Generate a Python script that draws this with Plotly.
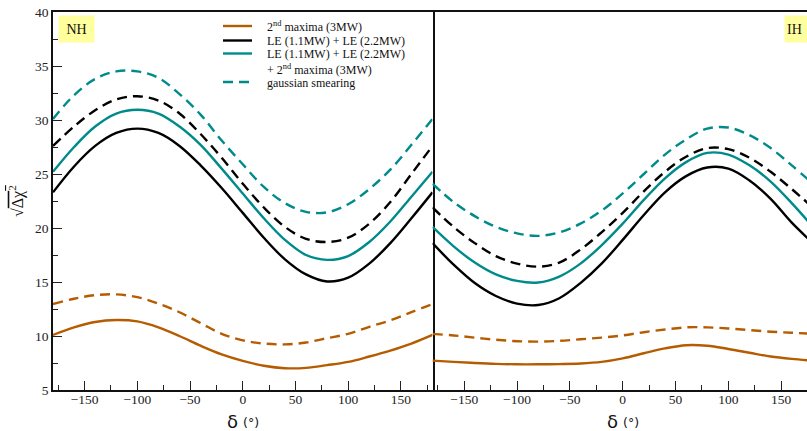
import plotly.graph_objects as go

# CP phase delta (degrees)
delta = [-180, -160, -140, -120, -100, -80, -60, -40, -20, 0,
         20, 40, 60, 80, 100, 120, 140, 160, 180]

# Normal hierarchy: sqrt(delta chi^2)
nh_second = [10.1, 10.8, 11.3, 11.48, 11.35, 10.8, 10.0, 9.1, 8.3, 7.7,
             7.25, 7.02, 7.05, 7.3, 7.6, 8.1, 8.65, 9.3, 10.1]
nh_second_gs = [12.96, 13.45, 13.78, 13.85, 13.6, 13.0, 12.2, 11.2, 10.2, 9.6,
                9.3, 9.22, 9.4, 9.8, 10.2, 10.85, 11.45, 12.2, 12.96]
nh_le = [23.3, 25.7, 27.6, 28.8, 29.2, 28.8, 27.6, 25.8, 23.7, 21.4,
         19.1, 17.1, 15.7, 15.05, 15.4, 16.7, 18.6, 20.9, 23.3]
nh_le_gs = [27.6, 29.4, 30.9, 31.9, 32.2, 31.8, 30.6, 28.7, 26.5, 24.1,
            21.9, 20.1, 19.0, 18.7, 19.1, 20.4, 22.4, 25.0, 27.6]
nh_total = [25.2, 27.5, 29.4, 30.6, 30.95, 30.6, 29.4, 27.7, 25.5, 23.2,
            20.9, 18.9, 17.5, 17.05, 17.4, 18.7, 20.6, 22.9, 25.2]
nh_total_gs = [30.1, 32.3, 33.8, 34.5, 34.5, 33.9, 32.4, 30.5, 28.1, 25.9,
               23.8, 22.3, 21.5, 21.45, 22.2, 23.6, 25.4, 27.7, 30.1]

# Inverted hierarchy
ih_second = [7.72, 7.6, 7.5, 7.42, 7.38, 7.38, 7.4, 7.45, 7.6, 7.93,
             8.4, 8.85, 9.15, 9.1, 8.8, 8.45, 8.1, 7.88, 7.72]
ih_second_gs = [10.2, 10.05, 9.85, 9.65, 9.52, 9.48, 9.55, 9.7, 9.85, 10.05,
                10.35, 10.6, 10.8, 10.8, 10.7, 10.55, 10.4, 10.3, 10.2]
ih_le = [18.6, 16.6, 14.9, 13.7, 13.0, 12.87, 13.5, 14.9, 16.7, 18.9,
         21.2, 23.3, 24.8, 25.6, 25.5, 24.4, 22.7, 20.5, 18.6]
ih_le_gs = [21.9, 20.1, 18.6, 17.4, 16.7, 16.42, 16.8, 18.0, 19.6, 21.4,
            23.4, 25.2, 26.6, 27.4, 27.3, 26.5, 25.2, 23.6, 21.9]
ih_total = [20.1, 18.3, 16.8, 15.7, 15.1, 14.95, 15.5, 16.7, 18.4, 20.4,
            22.6, 24.6, 26.1, 26.95, 26.8, 25.8, 24.3, 22.3, 20.1]
ih_total_gs = [24.1, 22.4, 21.1, 20.1, 19.5, 19.27, 19.6, 20.4, 21.6, 23.2,
               25.0, 26.8, 28.2, 29.2, 29.3, 28.6, 27.4, 25.8, 24.1]

y_ticks = [5, 10, 15, 20, 25, 30, 35, 40]
x_ticks = [-150, -100, -50, 0, 50, 100, 150]

legend_labels = [
    "2<sup>nd</sup> maxima (3MW)",
    "LE (1.1MW) + LE (2.2MW)",
    "LE (1.1MW) + LE (2.2MW)<br>+ 2<sup>nd</sup> maxima (3MW)",
    "gaussian smearing",
]

ORANGE = "#B65C00"
TEAL = "#008B8B"
BLACK = "#000000"
DASH = "10px,6px"
LW = 2.4

W, H = 807, 431
ML, MR, MT, MB = 53, 0, 12, 41
PW, PH = W - ML - MR, H - MT - MB


def fx(x):
    return (x - ML) / PW


def fy(y):
    return (H - MB - y) / PH


split = fx(432.5)

fig = go.Figure()

panels = [
    ("x", "y", nh_second, nh_second_gs, nh_le, nh_le_gs, nh_total, nh_total_gs),
    ("x2", "y2", ih_second, ih_second_gs, ih_le, ih_le_gs, ih_total, ih_total_gs),
]
for xa, ya, s2, s2g, le, leg, tot, totg in panels:
    series = [
        (s2g, ORANGE, DASH), (s2, ORANGE, "solid"),
        (leg, BLACK, DASH), (le, BLACK, "solid"),
        (totg, TEAL, DASH), (tot, TEAL, "solid"),
    ]
    for vals, col, dash in series:
        fig.add_trace(go.Scatter(
            x=delta, y=vals, xaxis=xa, yaxis=ya, mode="lines",
            line=dict(color=col, width=LW, dash=dash, shape="spline", smoothing=1.0),
            showlegend=False, hoverinfo="skip",
        ))

tickfont = dict(family="Liberation Serif", size=13.5, color="#222")
axis_common = dict(
    ticks="inside", ticklen=9, tickwidth=1.3, tickcolor="#222",
    showline=True, linecolor="#111", linewidth=1.6,
    showgrid=False, zeroline=False, tickfont=tickfont,
)
minor_x = dict(dtick=25, tick0=0, ticklen=5, tickcolor="#222", ticks="inside")

fig.update_layout(
    width=W, height=H,
    margin=dict(l=ML, r=MR, t=MT, b=MB),
    paper_bgcolor="white", plot_bgcolor="white",
    xaxis=dict(domain=[0, split], range=[-180, 180], tickvals=x_ticks,
               mirror=True, minor=minor_x, anchor="y", ticklabelstandoff=-4,
               **axis_common),
    xaxis2=dict(domain=[split, 1], range=[-180, 174.4], tickvals=x_ticks,
                mirror=True, minor=minor_x, anchor="y2", ticklabelstandoff=-4,
                **axis_common),
    yaxis=dict(range=[5, 40], tickvals=y_ticks, mirror=True,
               minor=dict(dtick=2.5, tick0=0, ticklen=5, tickcolor="#222", ticks="inside"),
               anchor="x", **axis_common),
    yaxis2=dict(range=[5, 40], showticklabels=False, ticks="", showline=False,
                showgrid=False, zeroline=False, anchor="x2"),
)

# hierarchy tags
tag_font = dict(family="Liberation Serif", size=14, color="#111")
fig.add_annotation(xref="paper", yref="paper", x=fx(76.5), y=fy(29),
                   xanchor="center", yanchor="middle",
                   text="NH", showarrow=False, bgcolor="#FFFF9E",
                   width=31, height=22, borderpad=2, font=tag_font)
fig.add_annotation(xref="paper", yref="paper", x=fx(784), y=fy(29),
                   xanchor="left", yanchor="middle",
                   text="IH", showarrow=False, bgcolor="#FFFF9E", align="left",
                   width=33, height=22, borderpad=2, font=tag_font)

# legend
legend_rows = [
    (legend_labels[0], ORANGE, "solid", 26),
    (legend_labels[1], BLACK, "solid", 40.5),
    (legend_labels[2], TEAL, "solid", 53.5),
    (legend_labels[3], TEAL, "dash", 82),
]
for label, col, dash, yy in legend_rows:
    fig.add_shape(type="line", xref="paper", yref="paper",
                  x0=fx(223), x1=fx(252), y0=fy(yy), y1=fy(yy),
                  line=dict(color=col, width=LW, dash=DASH if dash == "dash" else "solid"))
    fig.add_annotation(xref="paper", yref="paper", x=fx(265), y=fy(yy - 8.5),
                       xanchor="left", yanchor="top", align="left",
                       text=label, showarrow=False,
                       font=dict(family="Liberation Serif", size=12, color="#111"))

# x-axis titles
for cx in (243, 622.7):
    fig.add_annotation(xref="paper", yref="paper", x=fx(cx - 10.5), y=fy(421),
                       xanchor="center", yanchor="middle",
                       text="δ", showarrow=False,
                       font=dict(family="DejaVu Sans", size=18, color="#111"))
    fig.add_annotation(xref="paper", yref="paper", x=fx(cx + 8), y=fy(422),
                       xanchor="center", yanchor="middle",
                       text="(°)", showarrow=False,
                       font=dict(family="DejaVu Sans", size=12.5, color="#111"))

# y-axis title
fig.add_annotation(xref="paper", yref="paper", x=fx(16), y=fy(201), textangle=-90,
                   xanchor="center", yanchor="middle",
                   text="√<span style='text-decoration:overline'>Δχ<sup>2</sup></span>",
                   showarrow=False,
                   font=dict(family="Liberation Serif", size=16, color="#111"))

fig.write_html("out.html")
